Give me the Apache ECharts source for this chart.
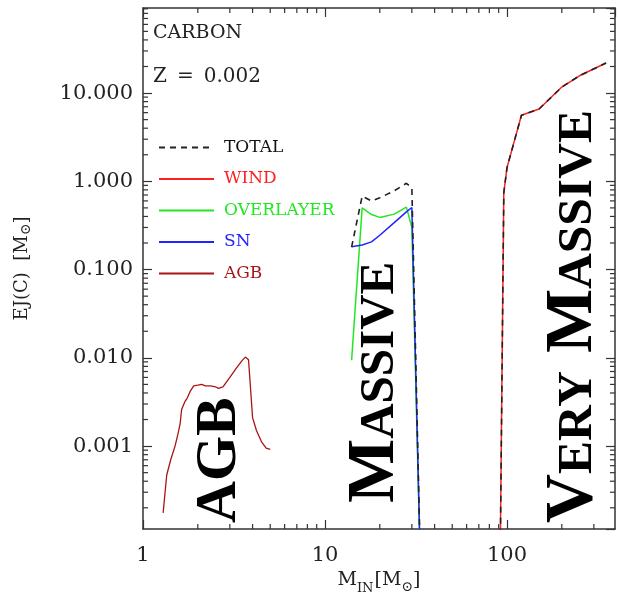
<!DOCTYPE html>
<html>
<head>
<meta charset="utf-8">
<script src="https://cdn.jsdelivr.net/npm/echarts@6/dist/echarts.min.js"></script>
<style>
  html, body { margin: 0; padding: 0; background: #fff; }
  #chart { width: 618px; height: 608px; }
</style>
</head>
<body>
<div id="chart"></div>
<script>
// Carbon ejecta EJ(C) [M_sun] versus initial mass M_IN [M_sun], Z = 0.002

// AGB stars
const agbMass  = [1.29, 1.35, 1.42, 1.50, 1.56, 1.60, 1.63, 1.70, 1.75, 1.82, 1.90, 2.00, 2.05, 2.10, 2.20, 2.25, 2.35, 2.50, 2.60, 2.75, 3.00, 3.25, 3.50, 3.65, 3.80, 4.00, 4.20, 4.50, 4.75, 5.00];
const agbYield = [1.75e-4, 4.7e-4, 7.0e-4, 1.0e-3, 1.4e-3, 1.8e-3, 2.6e-3, 3.2e-3, 3.5e-3, 4.2e-3, 4.8e-3, 4.9e-3, 4.7e-3, 5.0e-3, 4.8e-3, 5.0e-3, 4.8e-3, 4.7e-3, 4.5e-3, 4.7e-3, 6.0e-3, 7.6e-3, 9.3e-3, 1.02e-2, 9.5e-3, 2.1e-3, 1.5e-3, 1.1e-3, 9.5e-4, 9.2e-4];

// Massive stars
const massiveMass    = [14, 16, 18, 20, 24, 28, 30, 34];
const overlayerYield = [0.0094, 0.50, 0.42, 0.39, 0.425, 0.51, 0.30, 1e-5];
const snYield        = [0.181, 0.19, 0.206, 0.245, 0.34, 0.45, 0.505, 1e-5];
const massiveTotal   = [0.18, 0.68, 0.60, 0.65, 0.78, 0.95, 0.84, 1e-5];

// Very massive stars
const vmsMass   = [91, 96, 100, 120, 150, 200, 250, 350];
const windYield = [1e-5, 0.74, 1.43, 5.6, 6.6, 11.7, 15.7, 21.9];
const vmsTotal  = [1e-5, 0.74, 1.43, 5.6, 6.6, 11.7, 15.7, 21.9];

// Axes
const xRange = [1, 392];
const yRange = [1.15e-4, 92];
const xTicks = [1, 10, 100];
const xTickLabels = ['1', '10', '100'];
const yTicks = [0.001, 0.01, 0.1, 1, 10];
const yTickLabels = ['0.001', '0.010', '0.100', '1.000', '10.000'];
const minorSteps = [2, 3, 4, 5, 6, 7, 8, 9];

const axisColor = '#333';
const serif = '"DejaVu Serif", serif';
const boldSerif = '"Liberation Serif", "Times New Roman", serif';

const pairs = (xs, ys) => xs.map((x, i) => [x, ys[i]]);

function labelFor(v, ticks, labels) {
  const i = ticks.findIndex(t => Math.abs(Math.log10(t) - Math.log10(v)) < 1e-6);
  return i >= 0 ? labels[i] : '';
}

// minor tick positions 2..9 x 10^n inside each axis range
function minorValues(range) {
  const out = [];
  for (let e = Math.floor(Math.log10(range[0])); e <= Math.ceil(Math.log10(range[1])); e++) {
    minorSteps.forEach(s => {
      const v = s * Math.pow(10, e);
      if (v > range[0] && v < range[1]) out.push(v);
    });
  }
  return out;
}

const tickStyle = { stroke: axisColor, lineWidth: 1.2 };

function renderMinorX(params, api) {
  const cs = params.coordSys;
  const p = api.coord([api.value(0), 1]);
  const b = cs.y + cs.height;
  return {
    type: 'group',
    children: [
      { type: 'line', shape: { x1: p[0], y1: b, x2: p[0], y2: b - 5 }, style: tickStyle },
      { type: 'line', shape: { x1: p[0], y1: cs.y, x2: p[0], y2: cs.y + 5 }, style: tickStyle }
    ]
  };
}

function renderMinorY(params, api) {
  const cs = params.coordSys;
  const p = api.coord([10, api.value(1)]);
  const r = cs.x + cs.width;
  return {
    type: 'group',
    children: [
      { type: 'line', shape: { x1: cs.x, y1: p[1], x2: cs.x + 5, y2: p[1] }, style: tickStyle },
      { type: 'line', shape: { x1: r, y1: p[1], x2: r - 5, y2: p[1] }, style: tickStyle }
    ]
  };
}

const baseLine = { show: true, onZero: false, lineStyle: { color: axisColor, width: 1.5 } };
const baseTick = { show: true, inside: true, length: 9, lineStyle: { color: axisColor, width: 1.2 } };

const chart = echarts.init(document.getElementById('chart'), null, { renderer: 'canvas' });

chart.setOption({
  backgroundColor: '#fff',
  animation: false,
  grid: { left: 143, top: 8, width: 472, height: 521, containLabel: false },
  xAxis: [
    {
      type: 'log', logBase: 10, min: xRange[0], max: xRange[1], position: 'bottom',
      axisLine: baseLine, axisTick: baseTick, splitLine: { show: false },
      axisLabel: {
        margin: 16, color: '#222', fontFamily: serif, fontSize: 21,
        showMinLabel: true, showMaxLabel: false,
        formatter: v => labelFor(v, xTicks, xTickLabels)
      },
      name: '{m|M}{sub|IN}{m|[M}{sun|⊙}{m|]}',
      nameLocation: 'middle', nameGap: 40,
      nameTextStyle: {
        rich: {
          m: { fontFamily: serif, fontSize: 19, color: '#222', verticalAlign: 'bottom', lineHeight: 22, padding: [0, 0, 5, 0] },
          sub: { fontFamily: serif, fontSize: 13, color: '#222', verticalAlign: 'bottom', lineHeight: 14, padding: [0, 1, 0, 0] },
          sun: { fontFamily: serif, fontSize: 14, color: '#222', verticalAlign: 'bottom', lineHeight: 14, padding: [0, 0, 1, 0] }
        }
      }
    },
    {
      type: 'log', logBase: 10, min: xRange[0], max: xRange[1], position: 'top',
      axisLine: baseLine, axisTick: baseTick, splitLine: { show: false }, axisLabel: { show: false }
    }
  ],
  yAxis: [
    {
      type: 'log', logBase: 10, min: yRange[0], max: yRange[1], position: 'left',
      axisLine: baseLine, axisTick: baseTick, splitLine: { show: false },
      axisLabel: {
        margin: 10, color: '#222', fontFamily: serif, fontSize: 21,
        showMinLabel: false, showMaxLabel: false,
        formatter: v => labelFor(v, yTicks, yTickLabels)
      },
      name: '{m|EJ(C)  [M}{sun|⊙}{m|]}',
      nameLocation: 'middle', nameGap: 110, nameRotate: 90,
      nameTextStyle: {
        rich: {
          m: { fontFamily: serif, fontSize: 18, color: '#222', verticalAlign: 'bottom', lineHeight: 22, padding: [0, 0, 2, 0] },
          sun: { fontFamily: serif, fontSize: 14, color: '#222', verticalAlign: 'bottom', lineHeight: 16 }
        }
      }
    },
    {
      type: 'log', logBase: 10, min: yRange[0], max: yRange[1], position: 'right',
      axisLine: baseLine, axisTick: baseTick, splitLine: { show: false }, axisLabel: { show: false }
    }
  ],
  legend: {
    orient: 'vertical', left: 153, top: 134,
    itemWidth: 55, itemHeight: 14, itemGap: 14.5,
    selectedMode: false,
    itemStyle: { opacity: 0 },
    textStyle: { fontFamily: serif, fontSize: 17, padding: [0, 0, 0, 5] },
    data: [
      { name: 'TOTAL', textStyle: { color: '#111' } },
      { name: 'WIND', textStyle: { color: '#ff1f1f' } },
      { name: 'OVERLAYER', textStyle: { color: '#22e822' } },
      { name: 'SN', textStyle: { color: '#2323ff' } },
      { name: 'AGB', textStyle: { color: '#a81515' } }
    ]
  },
  series: [
    {
      name: 'OVERLAYER', type: 'line', symbol: 'none', xAxisIndex: 0, yAxisIndex: 0,
      data: pairs(massiveMass, overlayerYield),
      lineStyle: { color: '#22e822', width: 1.5 }, itemStyle: { color: '#22e822' }
    },
    {
      name: 'SN', type: 'line', symbol: 'none',
      data: pairs(massiveMass, snYield),
      lineStyle: { color: '#2323ff', width: 1.5 }, itemStyle: { color: '#2323ff' }
    },
    {
      name: 'WIND', type: 'line', symbol: 'none',
      data: pairs(vmsMass, windYield),
      lineStyle: { color: '#ff1f1f', width: 1.5 }, itemStyle: { color: '#ff1f1f' }
    },
    {
      name: 'AGB', type: 'line', symbol: 'none',
      data: pairs(agbMass, agbYield),
      lineStyle: { color: '#a81515', width: 1.3 }, itemStyle: { color: '#a81515' }
    },
    {
      name: 'TOTAL', type: 'line', symbol: 'none', connectNulls: false,
      data: pairs(massiveMass, massiveTotal).concat([[60, null]], pairs(vmsMass, vmsTotal)),
      lineStyle: { color: '#222', width: 1.6, type: [6, 5] }, itemStyle: { color: '#222' }
    },
    {
      name: 'xMinor', type: 'custom', silent: true, clip: false, z: 5,
      renderItem: renderMinorX,
      data: minorValues(xRange).map(v => [v, 1])
    },
    {
      name: 'yMinor', type: 'custom', silent: true, clip: false, z: 5,
      renderItem: renderMinorY,
      data: minorValues(yRange).map(v => [10, v])
    }
  ],
  graphic: [
    {
      type: 'text', x: 153, y: 24,
      style: { text: 'CARBON', font: '19px ' + serif, fill: '#222', align: 'left', verticalAlign: 'top' }
    },
    {
      type: 'text', x: 153, y: 67,
      style: { text: 'Z\u2002=\u20020.002', font: '20px ' + serif, fill: '#222', align: 'left', verticalAlign: 'top' }
    },
    {
      type: 'text', x: 249, y: 523, rotation: Math.PI / 2,
      style: {
        text: 'AGB', font: 'bold 58px ' + boldSerif, fill: '#000',
        align: 'left', verticalAlign: 'bottom'
      }
    },
    {
      type: 'text', x: 409, y: 503, rotation: Math.PI / 2,
      style: {
        text: '{b|M}{s|ASSIVE}', align: 'left', verticalAlign: 'bottom',
        rich: {
          b: { font: 'bold 68px ' + boldSerif, fill: '#000', verticalAlign: 'bottom' },
          s: { font: 'bold 49px ' + boldSerif, fill: '#000', verticalAlign: 'bottom', padding: [0, 0, 4, 0] }
        }
      }
    },
    {
      type: 'text', x: 607, y: 523, rotation: Math.PI / 2,
      style: {
        text: '{b|V}{s|ERY}{sp| }{b|M}{s|ASSIVE}', align: 'left', verticalAlign: 'bottom',
        rich: {
          b: { font: 'bold 68px ' + boldSerif, fill: '#000', verticalAlign: 'bottom' },
          sp: { font: 'bold 72px ' + boldSerif, fill: '#000', verticalAlign: 'bottom' },
          s: { font: 'bold 49.5px ' + boldSerif, fill: '#000', verticalAlign: 'bottom', padding: [0, 0, 4, 0] }
        }
      }
    }
  ]
});
</script>
</body>
</html>
